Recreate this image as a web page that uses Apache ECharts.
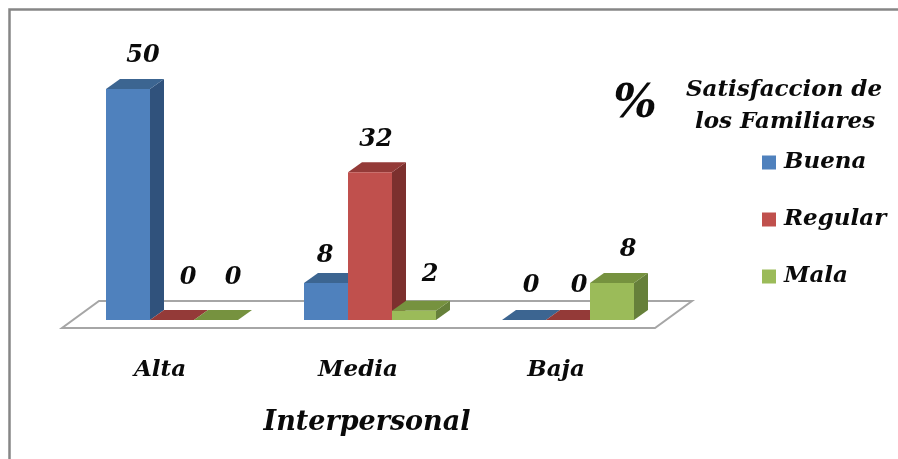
<!DOCTYPE html>
<html>
<head>
<meta charset="utf-8">
<style>html,body{margin:0;padding:0;background:#fff}#c{width:898px;height:459px}</style>
<script src="https://cdn.jsdelivr.net/npm/echarts@6/dist/echarts.min.js"></script>
</head>
<body>
<div id="c"></div>
<script>
// Survey results by interpersonal level
const categories = ['Alta', 'Media', 'Baja'];
const buena = [50, 8, 0];
const regular = [0, 32, 0];
const mala = [0, 2, 8];
const seriesNames = ['Buena', 'Regular', 'Mala'];

const FONT = '"DejaVu Serif", serif';
const INK = '#0a0a0a';
// front, top and side shades of each 3D bar
const shades = [
  ['#4f81bd', '#3c6591', '#30527c'],
  ['#c0504d', '#943a38', '#7c302e'],
  ['#9bbb59', '#76923f', '#66803a']
];
const DEPTH_X = 14, DEPTH_Y = 10;
const BAR_W = 44;
// value labels are nudged so they clear neighbouring bars [series][category]
const labelDx = [[15, -1, 7], [16, 6, 11], [17, 16, 16]];
const labelDy = [[23, 17, 24], [32, 22, 24], [32, 26, 23]];

function renderBar(si) {
  return function (params, api) {
    const c = api.value(0), v = api.value(1);
    const base = api.coord([c, 0]);
    const top = api.coord([c, v]);
    const x0 = base[0] + (si - 1.5) * BAR_W;
    const x1 = x0 + BAR_W;
    const y0 = base[1], y1 = top[1];
    const [front, topFace, side] = shades[si];
    const poly = (pts, fill) => ({ type: 'polygon', shape: { points: pts }, style: { fill } });
    const children = [];
    if (v > 0) {
      children.push(poly([[x1, y0], [x1 + DEPTH_X, y0 - DEPTH_Y], [x1 + DEPTH_X, y1 - DEPTH_Y], [x1, y1]], side));
    }
    children.push(poly([[x0, y1], [x1, y1], [x1 + DEPTH_X, y1 - DEPTH_Y], [x0 + DEPTH_X, y1 - DEPTH_Y]], topFace));
    if (v > 0) {
      children.push({ type: 'rect', shape: { x: x0, y: y1, width: BAR_W, height: y0 - y1 }, style: { fill: front } });
    }
    children.push({
      type: 'text',
      style: {
        x: x0 + BAR_W / 2 + labelDx[si][c],
        y: y1 - DEPTH_Y - labelDy[si][c],
        text: String(v),
        fill: INK,
        font: 'italic bold 24px ' + FONT,
        align: 'center',
        verticalAlign: 'middle'
      }
    });
    return { type: 'group', children };
  };
}

// Floor plane under the bars, anchored to the plot area
function renderFloor(params, api) {
  const cs = params.coordSys;
  const y = cs.y + cs.height;
  const pts = [[cs.x - 11, y + 8], [cs.x + cs.width - 12, y + 8], [cs.x + cs.width + 25, y - 19], [cs.x + 26, y - 19]];
  return {
    type: 'polygon',
    shape: { points: pts },
    style: { fill: '#fff', stroke: '#a6a6a6', lineWidth: 2 }
  };
}

const chart = echarts.init(document.getElementById('c'), null, { renderer: 'canvas' });
const allValues = [buena, regular, mala];
chart.setOption({
  animation: false,
  backgroundColor: '#fff',
  grid: { left: 73, width: 594, top: 89, height: 231 },
  xAxis: {
    type: 'category',
    data: categories,
    axisLine: { show: false },
    axisTick: { show: false },
    axisLabel: { margin: 39, color: INK, fontFamily: FONT, fontStyle: 'italic', fontWeight: 'bold', fontSize: 23, padding: [0, 24, 0, 0] },
    name: 'Interpersonal',
    nameLocation: 'middle',
    nameGap: 89,
    nameTextStyle: { color: INK, fontFamily: FONT, fontStyle: 'italic', fontWeight: 'bold', fontSize: 27, padding: [0, 6, 0, 0] }
  },
  yAxis: { type: 'value', min: 0, max: 50, show: false },
  legend: {
    orient: 'vertical',
    left: 762,
    top: 151,
    padding: 0,
    itemWidth: 14,
    itemHeight: 14,
    itemGap: 34,
    icon: 'rect',
    data: seriesNames,
    textStyle: { color: INK, fontFamily: FONT, fontStyle: 'italic', fontWeight: 'bold', fontSize: 23, padding: [0, 0, 0, 3] }
  },
  graphic: [
    { type: 'rect', shape: { x: 9.5, y: 9.5, width: 1000, height: 1000 }, style: { fill: 'none', stroke: '#868686', lineWidth: 2.5 }, silent: true, z: 0 },
    { type: 'text', style: { x: 635, y: 105, text: '%', fill: INK, font: 'italic bold 46px ' + FONT, align: 'center', verticalAlign: 'middle' } },
    { type: 'text', style: { x: 784, y: 90, text: 'Satisfaccion de', fill: INK, font: 'italic bold 23px ' + FONT, align: 'center', verticalAlign: 'middle' } },
    { type: 'text', style: { x: 785, y: 122, text: 'los Familiares', fill: INK, font: 'italic bold 23px ' + FONT, align: 'center', verticalAlign: 'middle' } }
  ],
  series: [
    { type: 'custom', name: 'floor', coordinateSystem: 'cartesian2d', renderItem: renderFloor, data: [[0, 0]], silent: true, z: 1 }
  ].concat(seriesNames.map((name, si) => ({
    type: 'custom',
    name,
    coordinateSystem: 'cartesian2d',
    renderItem: renderBar(si),
    itemStyle: { color: shades[si][0] },
    encode: { x: 0, y: 1 },
    z: 2 + si,
    data: allValues[si].map((v, i) => [i, v])
  })))
});
</script>
</body>
</html>
